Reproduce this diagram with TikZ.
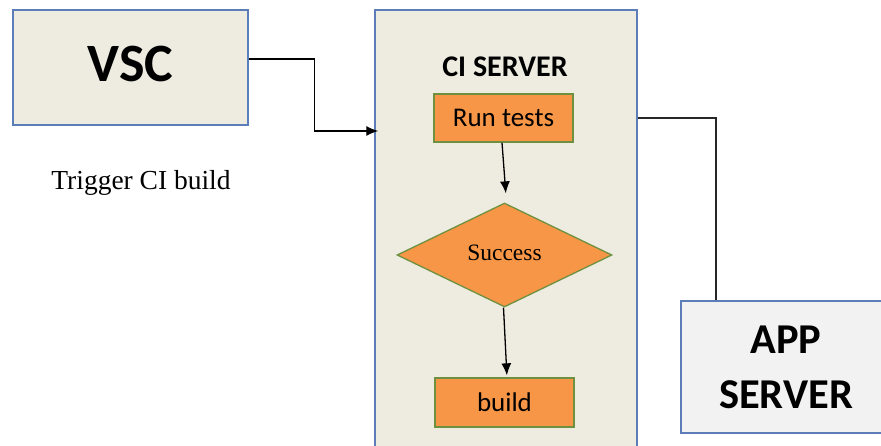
\documentclass[tikz,border=0pt]{standalone}
\usepackage{fontspec}
\setmainfont{Carlito}
\newfontfamily\serifface{Liberation Serif}
\usetikzlibrary{arrows.meta,shapes.geometric}

\definecolor{tanfill}{HTML}{EEECE1}
\definecolor{boxline}{HTML}{5B7DB9}
\definecolor{appfill}{HTML}{F2F2F2}
\definecolor{stepfill}{HTML}{F79646}
\definecolor{stepline}{HTML}{6E9140}

\tikzset{
  panel/.style={draw=boxline, line width=1.4pt, fill=tanfill, inner sep=0pt},
  stepbox/.style={draw=stepline, line width=1.3pt, fill=stepfill, inner sep=0pt,
    minimum width=139pt, minimum height=48pt, font=\fontsize{27}{32}\selectfont},
  decision/.style={diamond, draw=stepline, line width=1.3pt, fill=stepfill, inner sep=0pt,
    minimum width=215pt, minimum height=104pt,
    font=\serifface\fontsize{23.5}{28}\selectfont},
  arr/.style={-{Latex[length=12pt,width=10pt]}, line width=1.3pt, black},
  link/.style={line width=1.3pt, black!85}
}

\begin{document}
\begin{tikzpicture}[x=1pt,y=-1pt]
  \useasboundingbox (0,0) rectangle (881,446);
  \clip (0,0) rectangle (881,446);

  % source control box
  \node[panel, minimum width=235pt, minimum height=115pt,
        font=\bfseries\fontsize{54}{60}\selectfont] (vsc) at (130.5,67.5)
        {\raisebox{7pt}{VSC}};

  \node[font=\serifface\fontsize{27.5}{32}\selectfont] (trig) at (141,183) {Trigger CI build};

  % CI server panel (runs past the lower edge)
  \node[panel, minimum width=262pt, minimum height=460pt] (ci) at (506,240) {};
  \node[font=\bfseries\fontsize{30}{36}\selectfont] (citle) at (505,67) {CI SERVER};

  \node[stepbox] (run) at (503.5,118) {Run tests};
  \node[decision] (succ) at (504.5,255) {\raisebox{4pt}{Success}};
  \node[stepbox, minimum height=49pt] (build) at (504.5,402.5) {build};

  % application server box (runs past the right edge)
  \node[draw=boxline, line width=1.4pt, fill=appfill, inner sep=0pt,
        minimum width=210pt, minimum height=132pt, align=center,
        font=\bfseries\fontsize{42.5}{55}\selectfont] (app) at (786,367)
        {APP\\SERVER};

  % connectors
  \draw[arr] ([yshift=8.5pt]vsc.east) -- ++(66,0) |- ([xshift=4pt,yshift=109pt]ci.west);
  \draw[arr, shorten >=9pt] ([xshift=-1.5pt]run.south) -- ([xshift=2pt]succ.north);
  \draw[arr, shorten >=2pt] ([xshift=-1pt]succ.south) -- ([xshift=2.5pt]build.north);
  \draw[link] ([yshift=122pt]ci.east) -| ([xshift=-70pt]app.north);
\end{tikzpicture}
\end{document}
